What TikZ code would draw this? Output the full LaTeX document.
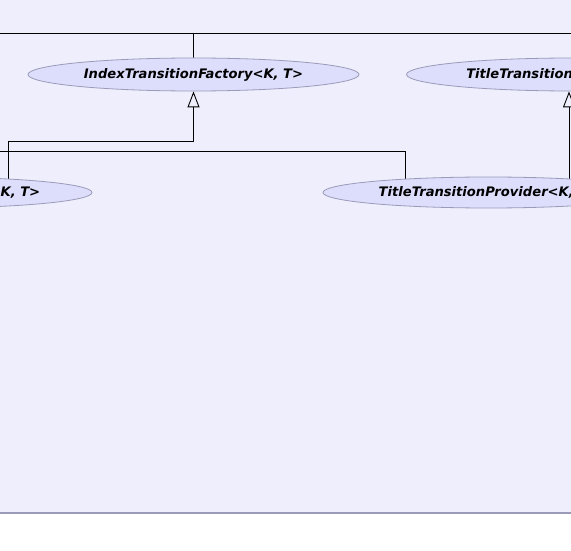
\documentclass[tikz,border=0pt]{standalone}
\usepackage{fontspec}
\setsansfont{DejaVu Sans}
\usepackage{xcolor}
\usetikzlibrary{arrows.meta,shapes.geometric}

\definecolor{diagbg}{RGB}{238,238,252}
\definecolor{classfill}{RGB}{221,221,252}
\definecolor{classline}{RGB}{155,155,185}

\pgfdeclarelayer{back}
\pgfsetlayers{back,main}

\tikzset{
  cls/.style={ellipse, draw=classline, fill=classfill, line width=0.8pt,
    inner sep=0pt, minimum width=331pt, minimum height=33pt,
    font=\sffamily\bfseries\itshape\fontsize{13.1}{15}\selectfont},
  low/.style={minimum height=31pt},
  rel/.style={line width=0.9pt},
  inherit/.style={rel, -{Triangle[open, length=16pt, width=12pt]}}
}

\begin{document}
\begin{tikzpicture}[x=1pt, y=-1pt]
\useasboundingbox (0,0) rectangle (571,551);

\node[cls] (ind) at (193.5,74.5) {IndexTransitionFactory<K, T>};
\node[cls] (ttf) at (572,74.5) {TitleTransitionFactory<K, T>};
\node[cls, low] (ip) at (-73.5,192.5) {IndexTransitionProvider<K, T>};
\node[cls, low] (ttp) at (488.5,192.5) {TitleTransitionProvider<K, T>};

% free ends of the lines leaving the picture
\coordinate (upL) at (0,33);
\coordinate (upR) at (571,33);
\coordinate (midL) at (0,151);
\coordinate (jog) at (8,141);
\coordinate (drop) at (405,151);
\coordinate (rise) at (569,0);

\begin{pgfonlayer}{back}
\fill[white] (0,0) rectangle (571,551);
\fill[diagbg] (0,0) rectangle (571,513);
\draw[classline, line width=1.2pt] (0,513) -- (571,513);

\draw[rel] (upL) -- (upR);
\draw[rel] (ind.north |- upL) -- (ind.north);
\draw[inherit] (ip.center -| jog) -- (jog) -| (ind.south);
\draw[rel] (midL) -- (drop) -- (ttp.center -| drop);
\draw[inherit] (ttp.center -| rise) -- (ttf.south -| rise);
\end{pgfonlayer}
\end{tikzpicture}
\end{document}
